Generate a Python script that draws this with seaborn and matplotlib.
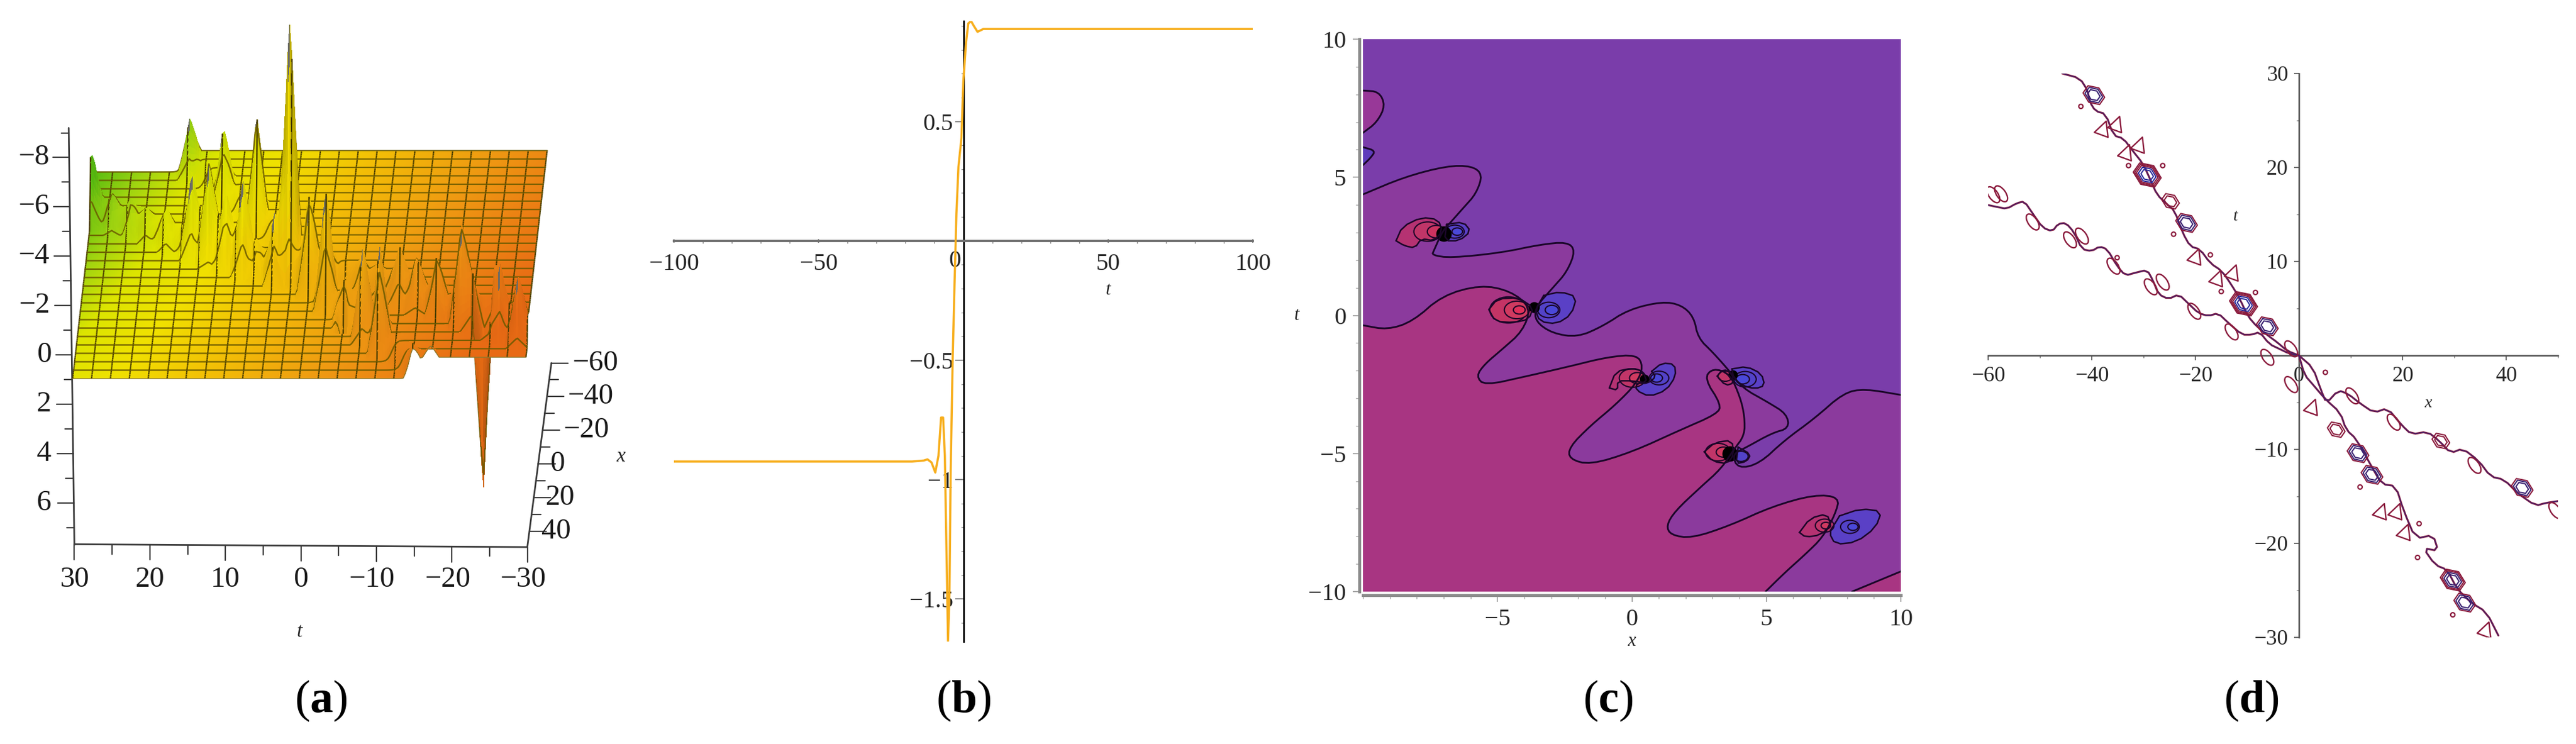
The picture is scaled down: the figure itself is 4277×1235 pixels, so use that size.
import numpy as np
import matplotlib
matplotlib.use("Agg")
import matplotlib.pyplot as plt
import seaborn as sns
from matplotlib.collections import LineCollection
from matplotlib.colors import LinearSegmentedColormap
from matplotlib.markers import MarkerStyle
from matplotlib.transforms import Affine2D

W, H = 4277, 1235

# ---- panel (a): surface read-offs (t, x, height of each spike)
level_z = [0.96, 0.095, -0.77]
peak_t = [17.3, 12.4, 7.6, 2.8, 0.1, -2.4, -5.1, -7.8, -10.2, -14.9, -17.4,
          29.9, 27.0, 24.5, 22.4, 19.6, 16.1, 13.7, 11.7, 9.1, 4.7,
          14.6, 11.2, 8.8, 7.3,
          -7.2, -9.4, -12.4, -14.7, -17.5, -20.9, -22.4, -25.2, -26.3, -28.7,
          -24.0, -5.6]
peak_x = [-57.8, -41.3, -25.3, -9.4, -0.2, 7.9, 17.0, 26.0, 34.0, 49.7, 50.0,
          -42.7, -38.6, -35.0, -32.0, -28.0, -23.0, -19.6, -16.7, -13.0, -6.7,
          -20.8, -16.0, -12.5, -10.4,
          10.3, 13.4, 17.7, 21.0, 25.0, 29.8, 32.0, 36.0, 37.6, 41.0,
          34.3, 18.5]
peak_z = [-1.9, -2.7, -4.4, -9.4, -3.1, -4.5, -2.4, -3.3, -3.9, -0.9, -0.5,
          -2.4, -0.7, -0.8, -0.6, -0.9, -2.9, -3.6, -1.5, -3.1, -2.5,
          -0.6, -1.4, -0.4, -0.9,
          -0.6, -0.5, -1.8, -1.5, -1.8, -3.7, -1.7, -1.8, -2.1, -2.2,
          7.2, 4.0]
a_t_ticks = [30, 20, 10, 0, -10, -20, -30]
a_z_ticks = [-8, -6, -4, -2, 0, 2, 4, 6]
a_x_ticks = [-60, -40, -20, 0, 20, 40]

# ---- panel (b)
b_t = [-100, -60, -17.7, -13.7, -12.4, -11.0, -9.7, -8.6, -7.7, -7.0, -6.4, -6.0, -5.3,
       -4.8, -4.4, -3.7, -3.05, -2.4, -1.7, -0.66, 0.0, 0.93, 1.7, 2.66, 3.6, 4.9, 6.9, 20, 100]
b_y = [-0.924, -0.924, -0.924, -0.92, -0.915, -0.928, -0.97, -0.90, -0.74, -0.74, -0.90, -1.18, -1.676,
       -1.475, -0.98, -0.50, -0.18, 0.115, 0.31, 0.43, 0.67, 0.83, 0.91, 0.92, 0.90, 0.875, 0.887, 0.887, 0.887]

# ---- panel (c): contour traces in (x, t)
c_upper_x = [-10, -8.46, -6.89, -5.95, -5.55, -5.79, -6.26, -6.73, -7.05, -7.36, -7.44, -6.73, -4.85, -3.43,
             -2.41, -2.10, -2.41, -2.96, -3.59, -3.59, -2.96, -2.02, -1.08, -0.13, 1.12, 1.83, 2.30, 2.46,
             3.01, 3.64, 4.11, 5.05, 5.76, 5.84, 5.21, 4.27, 3.72, 3.95, 4.74, 5.68, 6.78, 7.88, 8.66, 10]
c_upper_y = [4.38, 5.01, 5.41, 5.41, 5.10, 4.41, 3.90, 3.38, 3.04, 2.35, 2.18, 2.08, 2.27, 2.56,
             2.66, 2.35, 1.58, 0.98, 0.29, -0.22, -0.65, -0.79, -0.39, 0.21, 0.50, 0.38, -0.05, -0.82,
             -1.34, -2.03, -2.63, -3.14, -3.57, -4.09, -4.26, -4.77, -5.03, -5.55, -5.37, -4.52, -3.74, -2.80, -2.66, -2.88]
c_lower_x = [-10, -9.09, -8.15, -7.05, -5.63, -4.53, -3.75, -4.06, -4.85, -5.48, -5.79, -5.48, -3.90, -2.33,
             -0.92, 0.18, 0.42, 0.18, -0.60, -1.55, -2.33, -2.33, -1.55, 0.02, 1.75, 3.17, 3.32, 2.69, 3.01,
             3.64, 4.03, 4.19, 4.19, 3.79, 3.32, 2.54, 1.60, 1.28, 1.44, 2.22, 3.64, 5.21, 6.78, 7.72, 7.57,
             7.10, 6.46, 5.68, 4.97]
c_lower_y = [-0.36, -0.52, -0.22, 0.72, 1.10, 0.89, 0.29, -0.57, -1.25, -1.77, -2.20, -2.54, -2.20, -1.85,
             -1.51, -1.42, -1.85, -2.45, -3.23, -4.00, -4.77, -5.20, -5.41, -4.94, -4.17, -3.57, -3.23, -2.28, -1.91,
             -2.11, -2.97, -3.66, -4.34, -4.86, -5.55, -6.23, -7.09, -7.61, -7.95, -8.07, -7.61, -6.92, -6.49, -6.58, -7.18,
             -8.03, -8.64, -9.32, -10]
c_corner_x = [8.19, 10]
c_corner_y = [-10, -9.27]
c_topleft_x = [-10, -9.40, -9.17, -9.48, -10]
c_topleft_y = [8.14, 8.10, 7.59, 6.99, 6.61]
c_edge_blue_x = [-10, -9.53, -9.72, -10]
c_edge_blue_y = [6.09, 5.96, 5.70, 5.44]

c_red_lobes = [
    ([-8.77, -8.54, -7.83, -7.20, -7.05, -7.36, -7.83, -8.07, -8.46], [2.70, 3.21, 3.55, 3.47, 3.04, 2.70, 2.78, 2.44, 2.52]),
    ([-5.32, -5.0, -4.22, -3.67, -3.83, -4.38, -5.08], [0.21, 0.60, 0.64, 0.29, -0.14, -0.26, -0.22]),
    ([-0.84, -0.60, 0.02, 0.42, 0.57, 0.02, -0.53, -0.53], [-2.63, -2.03, -1.91, -2.03, -2.45, -2.37, -2.37, -2.71]),
    ([3.17, 3.40, 3.72, 3.79, 3.48], [-2.20, -1.94, -2.11, -2.45, -2.54]),
    ([2.69, 3.09, 3.72, 3.79, 3.56, 3.01], [-4.94, -4.60, -4.52, -5.03, -5.37, -5.29]),
    ([6.23, 6.62, 7.25, 7.41, 7.01, 6.46], [-7.86, -7.35, -7.18, -7.61, -7.95, -8.03]),
]
c_blue_lobes = [
    ([-6.89, -6.26, -5.99, -6.42, -6.97], [3.30, 3.38, 3.04, 2.70, 2.70]),
    ([-3.28, -2.65, -2.05, -2.25, -2.80, -3.43, -3.59], [0.72, 0.86, 0.67, 0.03, -0.31, -0.22, 0.21]),
    ([0.73, 1.12, 1.59, 1.63, 1.28, 0.65, 0.15, 0.18, 0.65, 0.89], [-2.03, -1.72, -1.77, -2.20, -2.71, -2.94, -2.71, -2.45, -2.45, -2.20]),
    ([3.72, 4.27, 4.82, 4.94, 4.58, 4.11, 3.79], [-1.94, -1.85, -2.11, -2.54, -2.66, -2.54, -2.28]),
    ([3.95, 4.42, 4.27, 3.87], [-4.77, -5.03, -5.29, -5.37]),
    ([7.72, 8.51, 9.29, 9.06, 8.35, 7.56, 7.33, 7.56], [-7.26, -7.00, -7.09, -7.69, -8.21, -8.29, -7.86, -7.52]),
]
# inner rings of the lobes
c_ring_x = [-7.6, -7.3, -4.6, -4.3, -4.2, 0.0, 0.2, 3.45, 3.2, 3.4, 7.15, 7.2,
            -6.6, -6.5, -3.1, -3.0, 1.0, 0.9, 4.2, 4.1, 4.05, 8.1, 8.2]
c_ring_y = [3.05, 3.05, 0.2, 0.2, 0.2, -2.25, -2.25, -2.2, -4.95, -4.95, -7.6, -7.6,
            3.05, 3.05, 0.2, 0.2, -2.25, -2.25, -2.3, -2.3, -5.1, -7.65, -7.65]
c_ring_s = [1100, 450, 2000, 900, 200, 1000, 350, 300, 900, 300, 500, 130,
            500, 160, 700, 250, 550, 200, 700, 260, 300, 500, 150]
c_ring_c = ["#C03568", "#CC3360", "#C43465", "#D03A60", "#E0305A", "#C03568", "#D03A60", "#C03568", "#C03568", "#D03A60", "#C03568", "#D03A60",
            "#5242C8", "#4A48D8", "#5242C8", "#4A48D8", "#5242C8", "#4A48D8", "#5242C8", "#4A48D8", "#5242C8", "#5242C8", "#4A48D8"]
c_knot_x = [-7.0, -3.65, 0.45, 3.75, 3.65]
c_knot_y = [2.95, 0.3, -2.3, -2.15, -5.0]
c_knot_s = [340, 170, 130, 130, 340]

# ---- panel (d): two wavy soliton tracks, (x, t)
d_l1_x = [-60, -58.3, -56.4, -54.5, -53, -51.4, -49.5, -47.6, -46.5, -45, -43.4, -41.9, -40, -38.5, -37, -35.1, -33.5,
          -31.6, -29.3, -28.2, -27.1, -25.2, -23.2, -21.3, -19.4, -17.5, -15.6, -13.7, -11, -9.1, -7.6, -5.7, -3.8, -1.9, 0]
d_l1_y = [16, 15.8, 15.6, 16.2, 16.4, 15.1, 13.6, 13.2, 14, 14.1, 13.1, 11.3, 11.1, 11.6, 11.3, 9.5, 8.5,
          8.8, 9.1, 8, 6.5, 6, 6.5, 5.5, 4.5, 4.2, 4.5, 3.5, 2.2, 2.2, 2.5, 1.2, 0.7, 0.2, 0]
d_l2_x = [-45.7, -42.3, -40.8, -40.4, -39.3, -37.3, -35.8, -33.9, -32, -30.1, -28.6, -27.4, -25.5, -24, -22.5, -21,
          -19.1, -17.1, -14.9, -13, -11.4, -9.9, -8, -5.7, -4.2, -2.3, 0]
d_l2_y = [30, 29.5, 28.2, 27, 26, 25.7, 23.4, 23.1, 21.7, 20.4, 18.6, 17.1, 16.1, 15.4, 13.1, 11.6,
          11.3, 9.8, 9, 7.5, 6, 4.2, 3, 2, 1.4, 0.5, 0]
d_r1_x = [0, 2.7, 4.2, 5.3, 7.6, 9.5, 11.8, 14.5, 17.1, 19.8, 21.7, 24.8, 27.1, 29.3, 31.6, 34.7, 37, 39.6, 42.3, 45.7, 47.6, 50]
d_r1_y = [0, -1.3, -3.6, -5.1, -3.7, -4.1, -5.1, -6.1, -5.6, -7.4, -8.4, -8.1, -9.1, -10.4, -9.9, -11.2, -12.9, -13.2, -14.7, -16, -15.7, -15.5]
d_r2_x = [0, 1.1, 2.7, 5.0, 8, 9.1, 11.1, 14.1, 16, 18.7, 20.2, 22.5, 25.9, 26.9, 24, 26.3, 28.6, 30.5, 33.2, 36.2, 38.5]
d_r2_y = [0, -2.1, -3.1, -4.6, -6.1, -7.9, -8.9, -11.9, -13.7, -13.9, -16.5, -19.5, -19.1, -20.8, -20.5, -22.3, -22.8, -24.8, -26.3, -27.3, -29.8]

d_ring_x = [-29.3, -10.7, -39.6, -21.7, -6.1, 29.7, 11.4, 14.1, 7.2, 27.4, 43.1, 32.0, -24.8]
d_ring_y = [19.2, 5.5, 27.7, 14.1, 3.1, -23.9, -10.4, -12.7, -7.9, -9.1, -14.1, -26.3, 16.4]
d_ring_n = [5, 5, 3, 3, 3, 4, 3, 3, 2, 2, 3, 3, 2]
d_tri_x = [-37.7, -35.1, -33.2, -30.7, -19.8, -15.6, -12.6, 2.7, 16, 19, 20.6, 36.2]
d_tri_y = [24.2, 24.7, 21.7, 22.5, 10.6, 8.3, 8.9, -5.4, -16.5, -16.5, -18.7, -29.1]
d_oval_x = [-51.4, -44.2, -35.8, -28.6, -20.2, -13, -6.1, -1.5, 18.3, 33.9, 49.5, -59, -57.5, -41.9, -26.3, -1.5, 10.3]
d_oval_y = [14.2, 12.3, 9.5, 7.3, 4.7, 2.5, -0.2, -3.1, -7.1, -11.7, -16.5, 17.1, 17.2, 12.7, 7.8, 0.7, -4.3]
d_dot_x = [-42.1, -32.9, -26.3, -24.2, -17.1, -15, -8.4, 11.8, 23.2, 22.9, 29.7, -35.1, 5.1]
d_dot_y = [26.5, 20.2, 20.2, 12.9, 10.7, 6.8, 6.7, -14, -17.9, -21.5, -27.6, 10.4, -1.8]

sns.set_theme(style="white")
plt.rcParams["font.family"] = ["Liberation Serif", "DejaVu Serif"]
plt.rcParams["axes.unicode_minus"] = True
plt.rcParams["mathtext.fontset"] = "custom"
plt.rcParams["mathtext.rm"] = "Liberation Serif"
plt.rcParams["mathtext.bf"] = "Liberation Serif:bold"

fig = plt.figure(figsize=(W / 100, H / 100), dpi=100, facecolor="white")


def px_axes(left, top, right, bottom):
    ax = fig.add_axes([left / W, 1 - bottom / H, (right - left) / W, (bottom - top) / H])
    ax.patch.set_alpha(0)
    return ax


def rounded(xs, ys, passes=2):
    # corner cutting, so traced contours read as curves
    pts = np.column_stack([xs, ys]).astype(float)
    for _ in range(passes):
        a, b = pts[:-1], pts[1:]
        mid = np.empty((2 * len(a), 2))
        mid[0::2] = 0.75 * a + 0.25 * b
        mid[1::2] = 0.25 * a + 0.75 * b
        pts = np.vstack([pts[:1], mid, pts[-1:]])
    return pts[:, 0], pts[:, 1]


def line(ax, xs, ys, color, lw, zorder=3):
    sns.lineplot(x=np.asarray(xs), y=np.asarray(ys), sort=False, estimator=None, ax=ax,
                 color=color, linewidth=lw, zorder=zorder)
    ax.set_xlabel("")
    ax.set_ylabel("")


def label(text):
    return str(text).replace("-", "\u2212")


def caption(x_px, letter):
    fig.text(x_px / W, 1 - 1163 / H, "($\\mathbf{" + letter + "}$)", fontsize=55,
             color="black", ha="center", va="center")


# ------------------------------------------------------------------ panel (a)
ax = px_axes(0, 0, 1100, 1235)
ax.set_xlim(0, 1568)
ax.set_ylim(1568, 0)
ax.axis("off")


def proj_u(t, x):
    return 172 + (30 - t) * 17.88 + (50 - x) * 0.455


def proj_v(x, z):
    return 748 - 3.55 * (50 - x) + 52 * z


t_grid = np.arange(-30, 30.01, 0.25)
x_grid = np.arange(-60, 50.01, 0.5)
T, X = np.meshgrid(t_grid, x_grid)
# the two kink fronts: levels step across each track
front = 0.5 * (np.tanh((T + 0.3 * X) / 0.6) + np.tanh((T + 0.7 * X) / 0.6))
Z = level_z[1] + (level_z[0] - level_z[2]) / 2 * front
tips = np.zeros_like(Z, dtype=bool)
for pt, px, pz in zip(peak_t, peak_x, peak_z):
    wt = 1.5 if abs(pz) > 1.2 else 1.1
    # tent over one cell of the coarse plotting mesh
    tent = np.clip(1 - np.abs(T - pt) / wt, 0, 1) * np.clip(1 - np.abs(X - px) / 5.0, 0, 1)
    Z = Z + pz * tent
    if abs(pz) >= 1.9:
        tips |= tent > 0.88

cmap = LinearSegmentedColormap.from_list("surf", [(0, "#58BC10"), (0.1, "#A0D410"), (0.2, "#DCE400"),
                                                  (0.33, "#F0E000"), (0.5, "#F2BE06"), (0.72, "#EE9812"), (1, "#E86A14")])
S = (30 - T) / 60 * 0.85 + (X + 60) / 110 * 0.25 - 0.05 * np.clip(-Z, 0, 3)
C = cmap(np.clip(S, 0, 1))[..., :3]
shade = 1 - np.clip(np.abs(np.gradient(Z, axis=1)) * 0.16, 0, 0.32)
C = C * shade[..., None]
C[tips & (Z < -0.5)] = (0.42, 0.42, 0.40)

MESH = "#6A5A00"
U = proj_u(T, X)
V = proj_v(X, Z)
for i in range(len(x_grid) - 1):
    ax.pcolormesh(U[i:i + 2], V[i:i + 2], C[i:i + 1, :-1], shading="flat", linewidth=0,
                  antialiased=False, zorder=10 + i)
    segs = np.stack([np.stack([U[i, ::10], V[i, ::10]], axis=1),
                     np.stack([U[i + 1, ::10], V[i + 1, ::10]], axis=1)], axis=1)
    ax.add_collection(LineCollection(segs, colors="#4A3E00", linewidths=1.7, zorder=10 + i))
    if i % 10 == 0:
        ax.plot(U[i], V[i], color=MESH, lw=1.8, alpha=0.85, zorder=10 + i)
ax.plot(U[-1], V[-1], color="#8a7a30", lw=1.0, zorder=10 + len(x_grid))

AX_C = "#3a3a3a"
zmin, zmax = -9.2, 7.7
ax.plot([170 + 0.8 * zmin, 176], [748 + 52 * zmin, 748 + 52 * zmax], color=AX_C, lw=2)
for z in np.arange(-9, 8):
    major = z in a_z_ticks
    xa = 170 + 0.8 * z
    ax.plot([xa - (38 if major else 18), xa], [748 + 52 * z] * 2, color=AX_C, lw=1.6)
for z in a_z_ticks:
    ax.text(122 + (-4 if z < 0 else 0), 748 + 52 * z, label(z), fontsize=35, ha="right", va="center", color="#1a1a1a")

ax.plot([176, 1248], [1147, 1153], color=AX_C, lw=2)
for t in np.arange(-30, 31, 5):
    u = 176 + (30 - t) * 17.87
    v = 1147 + (30 - t) * 0.1
    ax.plot([u, u], [v, v + (32 if t % 10 == 0 else 20)], color=AX_C, lw=1.6)
for t in a_t_ticks:
    ax.text(176 + (30 - t) * 17.87 - (10 if t < 0 else 0), 1222, label(t), fontsize=35, ha="center", va="center", color="#1a1a1a")
ax.text(708, 1332, "t", fontsize=24, style="italic", ha="center", va="center")

ax.plot([1248, 1305], [1153, 765], color=AX_C, lw=2)
for x in np.arange(-60, 41, 10):
    v = 1153 - 3.55 * (49.3 - x)
    u = 1248 + (49.3 - x) * 0.52
    ax.plot([u, u + (40 if x in a_x_ticks else 22)], [v, v], color=AX_C, lw=1.6)
for x in a_x_ticks:
    v = 1153 - 3.55 * (49.3 - x)
    u = 1248 + (49.3 - x) * 0.52
    ax.text(u + 104 if x < 0 else u + 28, v, label(x), fontsize=35, ha="left" if x >= 0 else "center", va="center", color="#1a1a1a")
ax.text(1470, 962, "x", fontsize=24, style="italic", ha="center", va="center")
caption(533, "a")

# ------------------------------------------------------------------ panel (b)
ax = px_axes(1119, 35, 2080, 1065)
ax.set_xlim(-100, 100)
ax.set_ylim(-1.678, 0.92)
line(ax, b_t, b_y, "#F7AE1C", 2.6, zorder=4)
for side in ("top", "right"):
    ax.spines[side].set_visible(False)
ax.spines["left"].set_position(("data", 0))
ax.spines["bottom"].set_position(("data", 0))
ax.spines["left"].set_color("black")
ax.spines["left"].set_linewidth(2)
ax.spines["bottom"].set_color("#707070")
ax.spines["bottom"].set_linewidth(2.8)
ax.set_xticks([-100, -50, 50, 100])
ax.set_xticklabels([label(v) for v in [-100, -50, 50, 100]])
ax.set_xticks(np.arange(-90, 91, 10), minor=True)
ax.set_yticks([-1.5, -1, -0.5, 0.5])
ax.set_yticklabels([label(v) for v in [-1.5, -1, -0.5, 0.5]])
ax.set_yticks(np.arange(-1.6, 0.91, 0.1), minor=True)
ax.tick_params(axis="x", which="major", labelsize=29, length=5, width=1.2, pad=12, color="#707070", direction="inout", bottom=True)
ax.tick_params(axis="y", which="major", labelsize=29, length=10, width=1.2, pad=2, color="#707070", left=True)
ax.tick_params(axis="both", which="minor", length=3, width=1, color="#808080", bottom=True, left=True)
ax.text(-3, -0.085, "0", fontsize=29, ha="center", va="center")
ax.text(50, -0.207, "t", fontsize=22, style="italic", ha="center", va="center")
caption(1600, "b")

# ------------------------------------------------------------------ panel (c)
ax = px_axes(2263, 65, 3156, 982)
ax.set_xlim(-10, 10)
ax.set_ylim(-10, 10)
ax.set_facecolor("#7A3DAA")
ax.patch.set_alpha(1)
LINE_C = "#1a0628"
ux, uy = rounded(c_upper_x, c_upper_y)
lx_, ly_ = rounded(c_lower_x, c_lower_y)
ax.fill(list(ux) + [10, -10], list(uy) + [-10, -10], color="#8B3A9D", lw=0, zorder=1)
ax.fill(list(lx_) + [-10], list(ly_) + [-10], color="#A83582", lw=0, zorder=1.1)
ax.fill(c_corner_x + [10], c_corner_y + [-10], color="#A83582", lw=0, zorder=1.1)
tx_, ty_ = rounded(c_topleft_x, c_topleft_y)
ax.fill(tx_, ty_, color="#983898", lw=0, zorder=1.1)
bx_, by_ = rounded(c_edge_blue_x, c_edge_blue_y)
ax.fill(bx_, by_, color="#5E3CBC", lw=0, zorder=1.1)
for lobes, col in [(c_red_lobes, "#B53272"), (c_blue_lobes, "#5A40C6")]:
    for lx, ly in lobes:
        rx_, ry_ = rounded(lx + lx[:1], ly + ly[:1], 1)
        ax.fill(rx_, ry_, color=col, lw=0, zorder=1.2)
        line(ax, rx_, ry_, LINE_C, 1.8)
for rx, ry, rs, rc in zip(c_ring_x, c_ring_y, c_ring_s, c_ring_c):
    sns.scatterplot(x=[rx], y=[ry], s=rs, marker=MarkerStyle("o", transform=Affine2D().scale(1, 0.7)),
                    facecolor=rc, edgecolor=LINE_C, linewidth=1.5, zorder=2, ax=ax)
for kx, ky, ks in zip(c_knot_x, c_knot_y, c_knot_s):
    sns.scatterplot(x=[kx], y=[ky], s=ks, marker="o", facecolor="black", edgecolor="black", linewidth=0, zorder=2.5, ax=ax)
line(ax, ux, uy, LINE_C, 2.1)
line(ax, lx_, ly_, LINE_C, 2.1)
line(ax, c_corner_x, c_corner_y, LINE_C, 2.1)
line(ax, tx_, ty_, LINE_C, 2.1)
line(ax, bx_, by_, LINE_C, 2.1)
for side in ("top", "right"):
    ax.spines[side].set_visible(False)
for side in ("left", "bottom"):
    ax.spines[side].set_position(("outward", 4))
    ax.spines[side].set_color("#8a8a8a")
    ax.spines[side].set_linewidth(3.5)
ax.set_xticks([-5, 0, 5, 10])
ax.set_xticklabels([label(v) for v in [-5, 0, 5, 10]])
ax.set_yticks([-10, -5, 0, 5, 10])
ax.set_yticklabels([label(v) for v in [-10, -5, 0, 5, 10]])
ax.set_xticks(np.arange(-10, 10, 1), minor=True)
ax.set_yticks(np.arange(-10, 10, 1), minor=True)
ax.tick_params(which="major", labelsize=29, length=8, width=1.2, color="#9a9a9a", pad=8, bottom=True, left=True)
ax.tick_params(which="minor", length=4, width=1, color="#a0a0a0", bottom=True, left=True)
ax.text(0, -11.8, "x", fontsize=22, style="italic", ha="center", va="center", clip_on=False)
ax.text(-12.47, 0, "t", fontsize=22, style="italic", ha="center", va="center", clip_on=False)
caption(2670, "c")

# ------------------------------------------------------------------ panel (d)
ax = px_axes(3301, 122, 4247, 1058)
ax.set_xlim(-60, 50)
ax.set_ylim(-30, 30)
RED, PUR = "#8A1A3C", "#3A2272"
for lx, ly in [(d_l1_x, d_l1_y), (d_l2_x, d_l2_y), (d_r1_x, d_r1_y), (d_r2_x, d_r2_y)]:
    sx, sy = rounded(lx, ly, 1)
    line(ax, sx, sy, RED, 2.3)
    line(ax, sx, sy, PUR, 0.9, zorder=3.1)
for rx, ry, rn in zip(d_ring_x, d_ring_y, d_ring_n):
    for k in range(rn):
        s = 1300 * (rn - k) / 5
        col = RED if k < rn - 2 or rn <= 2 else (PUR if rn < 5 else "#2C2C9A")
        sns.scatterplot(x=[rx], y=[ry], s=s, marker=MarkerStyle("h", transform=Affine2D().scale(1, 0.75).rotate_deg(-35)),
                        facecolor="none", edgecolor=col, linewidth=1.5, zorder=4, ax=ax)
for tx, ty in zip(d_tri_x, d_tri_y):
    sns.scatterplot(x=[tx], y=[ty], s=300, marker=MarkerStyle("^", transform=Affine2D().rotate_deg(-20)),
                    facecolor="none", edgecolor=RED, linewidth=1.7, zorder=4, ax=ax)
for ox, oy in zip(d_oval_x, d_oval_y):
    sns.scatterplot(x=[ox], y=[oy], s=480, marker=MarkerStyle("o", transform=Affine2D().scale(0.5, 1).rotate_deg(35)),
                    facecolor="none", edgecolor=RED, linewidth=1.7, zorder=4, ax=ax)
sns.scatterplot(x=d_dot_x, y=d_dot_y, s=26, marker="o", facecolor="none", edgecolor=RED, linewidth=1.6, zorder=4, ax=ax)
for side in ("top", "right"):
    ax.spines[side].set_visible(False)
ax.spines["left"].set_position(("data", 0))
ax.spines["bottom"].set_position(("data", 0))
for side in ("left", "bottom"):
    ax.spines[side].set_color("#4d4d4d")
    ax.spines[side].set_linewidth(1.8)
ax.set_xticks([-60, -40, -20, 0, 20, 40])
ax.set_xticklabels([label(v) for v in [-60, -40, -20, 0, 20, 40]])
ax.set_yticks([-30, -20, -10, 10, 20, 30])
ax.set_yticklabels([label(v) for v in [-30, -20, -10, 10, 20, 30]])
ax.set_xticks(np.arange(-50, 51, 10), minor=True)
ax.set_yticks(np.arange(-25, 26, 5), minor=True)
ax.tick_params(which="major", labelsize=26, length=6, width=1.2, color="#4d4d4d", pad=7, bottom=True, left=True)
ax.tick_params(which="minor", length=3, width=1, color="#707070", bottom=True, left=True)
ax.text(24.9, -5.1, "x", fontsize=20, style="italic", ha="center", va="center")
ax.text(-12.2, 14.8, "t", fontsize=20, style="italic", ha="center", va="center")
caption(3738, "d")

fig.savefig("out.png", dpi=100)
